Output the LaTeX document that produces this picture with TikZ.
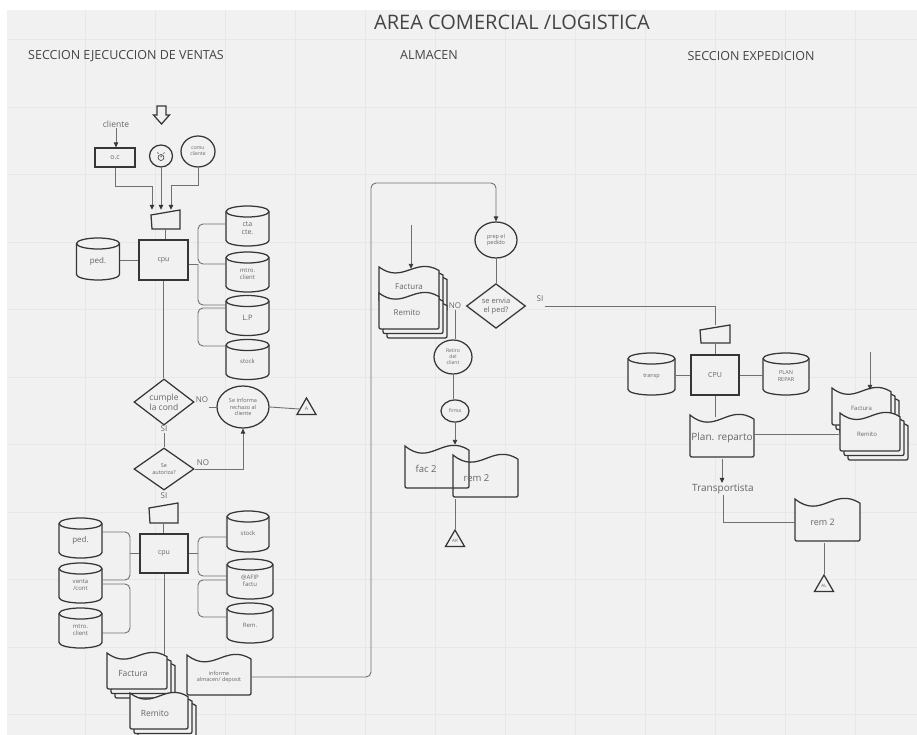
\documentclass[tikz,border=0pt]{standalone}
\usepackage{fontspec}
\setmainfont{Open Sans}
\usetikzlibrary{shapes.geometric,arrows.meta,calc}
\definecolor{bg}{HTML}{F1F1F1}
\definecolor{gridc}{HTML}{E7E7E7}
\definecolor{ink}{HTML}{363636}
\definecolor{wire}{HTML}{707070}
\definecolor{txt}{HTML}{666666}
\definecolor{titc}{HTML}{444444}
\newcommand\fs[1]{\fontsize{#1}{\dimexpr #1pt*6/5\relax}\selectfont}
\tikzset{
 shp/.style={draw=ink,line width=1.25pt},
 conn/.style={draw=wire,line width=0.9pt},
 arr/.style={conn,-{Triangle[length=5pt,width=4.5pt,color=ink]}},
 tx/.style={text=txt,inner sep=0pt,align=center},
 lab/.style={tx,inner sep=1pt},
 boxn/.style={shp,fill=bg,rectangle,inner sep=0pt,text=txt,align=center},
 ell/.style={shp,fill=bg,ellipse,inner sep=0pt,text=txt,align=center},
 dia/.style={shp,fill=bg,diamond,inner sep=0pt,text=txt,align=center},
 tri/.style={shp,fill=bg,regular polygon,regular polygon sides=3,minimum size=22pt,inner sep=0pt,text=txt,font=\fs{5}},
 gridl/.style={draw=gridc,line width=0.5pt},
}
% cylinder: name, cx, cy, w, h, fontsize, text
\newcommand\cylx[7]{%
 \pgfmathsetmacro\Xl{#2-#4/2}%
 \pgfmathsetmacro\Xr{#2+#4/2}%
 \pgfmathsetmacro\Kl{#2-0.55*#4/2}%
 \pgfmathsetmacro\Kr{#2+0.55*#4/2}%
 \pgfmathsetmacro\Yt{#3-#5/2+5.5}%
 \pgfmathsetmacro\Ytu{#3-#5/2}%
 \pgfmathsetmacro\Ytd{#3-#5/2+11}%
 \pgfmathsetmacro\Ytku{\Yt-3}%
 \pgfmathsetmacro\Ytkd{\Yt+3}%
 \pgfmathsetmacro\Yb{#3+#5/2-5.5}%
 \pgfmathsetmacro\Ybd{#3+#5/2}%
 \pgfmathsetmacro\Ybk{\Yb+3}%
 \draw[shp,fill=bg] (\Xl,\Yt) -- (\Xl,\Yb) .. controls (\Xl,\Ybk) and (\Kl,\Ybd) .. (#2,\Ybd) .. controls (\Kr,\Ybd) and (\Xr,\Ybk) .. (\Xr,\Yb) -- (\Xr,\Yt) .. controls (\Xr,\Ytku) and (\Kr,\Ytu) .. (#2,\Ytu) .. controls (\Kl,\Ytu) and (\Xl,\Ytku) .. cycle;
 \draw[shp] (\Xl,\Yt) .. controls (\Xl,\Ytkd) and (\Kl,\Ytd) .. (#2,\Ytd) .. controls (\Kr,\Ytd) and (\Xr,\Ytkd) .. (\Xr,\Yt);
 \node[tx,font=\fs{#6},minimum width=#4pt,minimum height=#5pt] (#1) at ({#2},{#3+2}) {#7};
}
% document outline: x, y, w, h, fill
\newcommand\docshape[5]{%
 \pgfmathsetmacro\DAx{#1+0.4*#3}\pgfmathsetmacro\DAy{#2+0.5*#4}%
 \pgfmathsetmacro\DBx{#1+0.6*#3}\pgfmathsetmacro\DBy{#2-0.3*#4}%
 \pgfmathsetmacro\DXr{#1+#3}\pgfmathsetmacro\DYe{#2+0.1*#4}%
 \pgfmathsetmacro\DYb{#2+#4}\pgfmathsetmacro\DYbr{#2+#4-4}%
 \pgfmathsetmacro\DXlr{#1+4}\pgfmathsetmacro\DXrr{#1+#3-4}%
 \draw[shp,fill=#5] (#1,#2) .. controls (\DAx,\DAy) and (\DBx,\DBy) .. (\DXr,\DYe) -- (\DXr,\DYbr) .. controls (\DXr,\DYb) .. (\DXrr,\DYb) -- (\DXlr,\DYb) .. controls (#1,\DYb) .. (#1,\DYbr) -- cycle;
}
% document node: name, x, y, w, h, fill, fontsize, text
\newcommand\docnode[8]{%
 \docshape{#2}{#3}{#4}{#5}{#6}%
 \node[tx,font=\fs{#7},minimum width=#4pt,minimum height=#5pt] (#1) at ({#2+#4/2},{#3+#5/2+2}) {#8};
}
% multi document: name, x, y, w, h, fill, fontsize, text
\newcommand\mdoc[8]{%
 \pgfmathsetmacro\MxA{#2+8}\pgfmathsetmacro\MyA{#3+9}%
 \pgfmathsetmacro\MxB{#2+4}\pgfmathsetmacro\MyB{#3+4.5}%
 \docshape{\MxA}{\MyA}{#4}{#5}{#6}%
 \docshape{\MxB}{\MyB}{#4}{#5}{#6}%
 \docnode{#1}{#2}{#3}{#4}{#5}{#6}{#7}{#8}%
}
% manual input: name, x, y, w, h
\newcommand\minput[5]{%
 \node[inner sep=0pt,minimum width=#4pt,minimum height=#5pt] (#1) at ({#2+#4/2},{#3+#5/2}) {};
 \draw[shp,fill=bg] (#2,{#3+5}) -- ({#2+#4},#3) -- ({#2+#4},{#3+#5}) -- ({#2+1},{#3+#5}) -- cycle;
}
\begin{document}
\begin{tikzpicture}[x=1pt,y=-1pt]
\useasboundingbox (0,0) rectangle (917,735);
\fill[white] (0,0) rectangle (917,735);
\fill[bg] (7,10) rectangle (917,735);
\foreach \gx in {85,155,...,855} \draw[gridl] (\gx,10) -- (\gx,735);
\foreach \gy in {39.5,107,...,714.5} \draw[gridl] (7,\gy) -- (917,\gy);

% titles
\node[tx,text=titc,font=\fs{20}] (title) at (512,22) {AREA COMERCIAL /LOGISTICA};
\node[tx,text=titc,font=\fs{12.5}] (s1) at (126,56) {SECCION EJECUCCION DE VENTAS};
\node[tx,text=titc,font=\fs{12.5}] (s2) at (429,55) {ALMACEN};
\node[tx,text=titc,font=\fs{12.5}] (s3) at (751,56) {SECCION EXPEDICION};

% ===== SECCION EJECUCCION DE VENTAS =====
\draw[shp,fill=bg,line join=miter] (157,106) -- (166,106) -- (166,115) -- (169.5,115) -- (161.5,124) -- (153.5,115) -- (157,115) -- cycle;
\node[lab,font=\fs{8.5}] (cliente) at (116,124) {cliente};
\node[boxn,minimum width=40pt,minimum height=19pt,font=\fs{7}] (oc) at (115,157.5) {o.c};
\node[ell,minimum width=23pt,minimum height=22pt] (clk) at (161,156) {};
\draw[ink,line width=0.6pt] (161,157.5) circle[radius=3pt];
\draw[ink,line width=0.6pt] (158.6,153.6) -- (157.4,152.6) (163.4,153.6) -- (164.6,152.6) (161,157.5) -- (161,156) -- (162.2,156);
\node[ell,minimum width=34pt,minimum height=31pt,font=\fs{5}] (comu) at (198,151.5) {comu\\cliente};
\minput{mi1}{151}{210}{29}{19}
\draw[arr] (cliente.south) -- (cliente.south |- oc.north);
\draw[arr] (oc.south) |- (152,186) -- (152,0 |- mi1.north);
\draw[arr] (clk.south) -- (clk.south |- mi1.north);
\draw[arr] (comu.south) |- (171,185.5) -- (171,0 |- mi1.north);

\node[boxn,minimum width=49pt,minimum height=40pt,font=\fs{7}] (cpu1) at (163.5,260) {cpu};
\draw[conn] (mi1.south) -- (mi1.south |- cpu1.north);
\cylx{ped1}{98}{259}{43}{42}{8}{ped.}
\cylx{cta1}{247.5}{226}{43}{40}{7}{cta\\cte.}
\cylx{mtro1}{247.5}{272}{43}{40}{6}{mtro.\\client}
\cylx{lp1}{247.5}{315.5}{43}{40}{7.5}{L.P}
\cylx{stock1}{247.5}{359.5}{43}{40}{6}{stock}
\draw[conn] (ped1.east |- cpu1.west) -- (cpu1.west);
\draw[conn] ($(cpu1.east)+(0,4)$) -- (198,264);
\draw[conn,rounded corners=5pt] (cta1.west |- 0,224) -| (198,264) -- (mtro1.west |- 0,264);
\draw[conn,rounded corners=5pt] (198,264) |- (lp1.west |- 0,305);
\draw[conn,rounded corners=5pt] (lp1.west |- 0,308) -| (198,346) -- (stock1.west |- 0,346);

\node[dia,minimum width=60pt,minimum height=43pt,font=\fs{8.5}] (d1) at (164,402) {cumple\\la cond};
\draw[conn] (cpu1.south) -- (cpu1.south |- d1.north);
\node[ell,minimum width=52pt,minimum height=42pt,font=\fs{5.5}] (rej) at (243,407) {Se Informa\\rechazo al\\cliente};
\node[lab,font=\fs{8}] (no1) at (202,400) {NO};
\draw[conn] (no1.east |- rej.west) -- (rej.west);
\node[tri] (tA) at (306.5,409) {A};
\draw[conn] (rej.east) -- (tA.west);
\node[lab,font=\fs{8}] (si1) at (164,429) {SI};
\node[dia,minimum width=60pt,minimum height=42pt,font=\fs{5.5}] (d2) at (164,469) {Se\\autoriza?};
\draw[conn] (si1.south) -- (d2.north);
\node[lab,font=\fs{8}] (no2) at (203,463) {NO};
\draw[arr] (d2.east) -| (rej.south);
\node[lab,font=\fs{8}] (si2) at (164,496) {SI};

\minput{mi2}{149}{503}{29}{20}
\node[boxn,minimum width=48pt,minimum height=39pt,font=\fs{7}] (cpu2) at (164,553.5) {cpu};
\draw[conn] (mi2.south) -- (mi2.south |- cpu2.north);
\cylx{ped2}{80.5}{538}{43}{40}{8}{ped.}
\cylx{venta}{80.5}{583}{43}{40}{6}{venta\\/cont}
\cylx{mtro2}{80.5}{628}{43}{40}{6}{mtro.\\client}
\cylx{stock2}{248}{531.5}{42}{41}{6}{stock}
\cylx{afip}{250}{579}{46}{40}{6}{@AFIP\\factu}
\cylx{rem}{250}{623}{46}{40}{6}{Rem.}
\draw[conn] (cpu2.west) -- (cpu2.west -| 130,0);
\draw[conn,rounded corners=5pt] (ped2.east |- 0,532) -| (130,580) -- (venta.east |- 0,580);
\draw[conn,rounded corners=5pt] (venta.east |- 0,584) -| (130,633) -- (mtro2.east |- 0,633);
\draw[conn] (cpu2.east) -- (cpu2.east -| 198,0);
\draw[conn,rounded corners=5pt] (stock2.west |- 0,537) -| (198,576) -- (afip.west |- 0,576);
\draw[conn,rounded corners=5pt] (afip.west |- 0,580) -| (198,617) -- (rem.west |- 0,617);

\mdoc{facL}{107}{653}{60}{36}{bg}{8.5}{Factura\hspace*{8pt}}
\mdoc{remL}{130}{693}{58}{36}{bg}{8.5}{Remito\hspace*{8pt}}
\draw[conn] (cpu2.south) -- (cpu2.south |- facL.north);
\docnode{inf}{187}{655}{64}{40}{bg}{5.5}{informe\\almacen/ deposit}

% ===== ALMACEN =====
\node[ell,minimum width=42pt,minimum height=36pt,font=\fs{5.5}] (prep) at (496,240) {prep el\\pedido};
\draw[arr,rounded corners=5pt] (inf.east) -| (371,183) -| (prep.north);
\node[dia,minimum width=59pt,minimum height=41pt,font=\fs{7.5}] (d3) at (496,306) {se envia\\el ped?};
\draw[conn] (prep.south) -- (d3.north);
\node[lab,font=\fs{8}] (si3) at (540,299) {SI};
\node[lab,font=\fs{8}] (no3) at (455,306) {NO};
\coordinate (inA) at (411,225);
\mdoc{facA}{379}{267}{60}{35}{bg}{8}{Factura}
\mdoc{remA}{379}{293}{60}{36}{bg}{8}{Remito\hspace*{4pt}}
\draw[arr] (inA) -- (inA |- facA.north);
\node[ell,minimum width=38pt,minimum height=34pt,font=\fs{5}] (ret) at (453,357) {Retiro\\del\\client};
\draw[conn] (no3.south) -- (no3.south |- ret.north);
\node[ell,minimum width=28pt,minimum height=22pt,font=\fs{5}] (firma) at (455,411) {firma};
\draw[conn] (ret.south) -- (ret.south |- firma.north);
\docnode{fac2}{405}{446}{64}{42}{none}{9.5}{fac 2\hspace*{22pt}}
\docnode{rem2a}{453}{455}{65}{42}{none}{9.5}{rem 2\hspace*{18pt}}
\draw[arr,shorten >=3pt] (firma.south) -- (firma.south |- fac2.north);
\node[tri,font=\fs{4.5}] (tAR) at (455,541) {AR};
\draw[conn] (tAR.north |- rem2a.south) -- (tAR.north);

% ===== SECCION EXPEDICION =====
\minput{mi3}{700}{325}{30}{18}
\draw[conn] (si3.east |- d3.east) -| (mi3.north);
\node[boxn,minimum width=48pt,minimum height=40pt,font=\fs{7}] (cpu3) at (715,375) {CPU};
\draw[conn] (mi3.south) -- (mi3.south |- cpu3.north);
\cylx{transp}{651.5}{374}{47}{42}{5.5}{transp}
\cylx{plan}{786}{374}{46}{42}{5.5}{PLAN\\REPAR}
\draw[conn] (transp.east |- cpu3.west) -- (cpu3.west);
\draw[conn] (cpu3.east) -- (cpu3.east -| plan.west);
\docnode{planrep}{690}{415}{64}{42}{bg}{10}{Plan. reparto}
\draw[conn] (cpu3.south) -- (cpu3.south |- planrep.north);
\coordinate (inR) at (870,352);
\mdoc{facR}{832}{388}{59}{37}{bg}{6}{Factura}
\mdoc{remR}{840}{413}{60}{38}{bg}{6}{Remito\hspace*{6pt}}
\draw[arr] (inR) -- (inR |- facR.north);
\draw[conn] (planrep.east |- 0,434) -- (remR.west |- 0,434);
\node[lab,font=\fs{10}] (trans) at (723,489) {Transportista};
\draw[arr] (planrep.south) -- (planrep.south |- trans.north);
\docnode{rem2b}{795}{499}{65}{42}{bg}{9}{rem 2\hspace*{10pt}}
\draw[conn] (trans.south) |- (rem2b.west);
\node[tri,font=\fs{4.5}] (tAL) at (824,586) {AL};
\draw[conn] (tAL.north |- rem2b.south) -- (tAL.north);
\end{tikzpicture}
\end{document}
